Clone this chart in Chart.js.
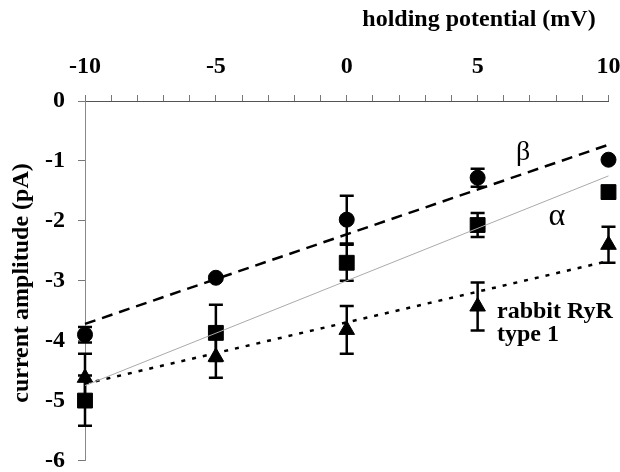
<!DOCTYPE html>
<html><head><meta charset="utf-8">
<script src="https://cdn.jsdelivr.net/npm/chart.js@4"></script>
<style>html,body{margin:0;padding:0;background:#fff}#wrap{width:620px;height:472px;position:relative}</style>
</head><body><div id="wrap"><canvas id="c"></canvas></div>
<script>
const potentials = [-10, -5, 0, 5, 10];
const betaValues = [-3.9, -2.95, -1.98, -1.28, -0.98];
const betaErrors = [0.13, 0.03, 0.4, 0.15, 0];
const alphaValues = [-5.0, -3.87, -2.7, -2.07, -1.52];
const alphaErrors = [0.42, 0.47, 0.3, 0.2, 0];
const rabbitValues = [-4.62, -4.27, -3.82, -3.43, -2.4];
const rabbitErrors = [0.4, 0.35, 0.4, 0.4, 0.3];
const trendX = [-10, 10];
const betaTrend = [-3.72, -0.73];
const alphaTrend = [-4.75, -1.25];
const rabbitTrend = [-4.72, -2.67];
const xLabeledTicks = [-10, -5, 0, 5, 10];
const xTitle = 'holding potential (mV)';
const yTitle = 'current amplitude (pA)';

const SERIF = '"Liberation Serif", "DejaVu Serif", serif';
const pts = (xs, ys) => xs.map((x, i) => ({x, y: ys[i]}));

const errorBarPlugin = {
  id: 'errorBars',
  beforeDatasetsDraw(chart) {
    const {ctx, scales: {x, y}} = chart;
    ctx.save();
    ctx.strokeStyle = '#000';
    ctx.lineWidth = 2.5;
    chart.data.datasets.forEach(ds => {
      if (!ds.errors) return;
      ds.data.forEach((p, i) => {
        const e = ds.errors[i];
        if (!e) return;
        const px = x.getPixelForValue(p.x);
        const top = y.getPixelForValue(p.y + e);
        const bot = y.getPixelForValue(p.y - e);
        ctx.beginPath();
        ctx.moveTo(px, top); ctx.lineTo(px, bot);
        ctx.moveTo(px - 7, top); ctx.lineTo(px + 7, top);
        ctx.moveTo(px - 7, bot); ctx.lineTo(px + 7, bot);
        ctx.stroke();
      });
    });
    ctx.restore();
  }
};

const textPlugin = {
  id: 'texts',
  afterDraw(chart) {
    const ctx = chart.ctx;
    ctx.save();
    ctx.fillStyle = '#000';
    ctx.textBaseline = 'middle';
    ctx.textAlign = 'center';
    ctx.font = 'bold 24px ' + SERIF;
    ctx.fillText(xTitle, 479, 20);
    ctx.save();
    ctx.translate(22, 283);
    ctx.rotate(-Math.PI / 2);
    ctx.fillText(yTitle, 0, 0);
    ctx.restore();
    ctx.font = '28px ' + SERIF;
    ctx.fillText('β', 523, 153);
    ctx.font = '32px ' + SERIF;
    ctx.fillText('α', 557, 217);
    ctx.textAlign = 'left';
    ctx.textBaseline = 'alphabetic';
    ctx.font = 'bold 24px ' + SERIF;
    ctx.fillText('rabbit RyR', 497, 318);
    ctx.fillText('type 1', 497, 341);
    ctx.restore();
  }
};

new Chart(document.getElementById('c'), {
  type: 'scatter',
  data: {
    datasets: [
      {label: 'β trend', type: 'line', data: pts(trendX, betaTrend), borderColor: '#000', borderWidth: 2.5, borderDash: [11, 7], pointRadius: 0, fill: false, clip: false},
      {label: 'α trend', type: 'line', data: pts(trendX, alphaTrend), borderColor: '#aaa', borderWidth: 1, pointRadius: 0, fill: false, clip: false},
      {label: 'rabbit trend', type: 'line', data: pts(trendX, rabbitTrend), borderColor: '#000', borderWidth: 2.5, borderDash: [4, 7], pointRadius: 0, fill: false, clip: false},
      {label: 'β', data: pts(potentials, betaValues), errors: betaErrors, pointStyle: 'circle', pointRadius: 7.5, backgroundColor: '#000', borderColor: '#000', clip: false},
      {label: 'α', data: pts(potentials, alphaValues), errors: alphaErrors, pointStyle: 'rect', pointRadius: 10.5, backgroundColor: '#000', borderColor: '#000', clip: false},
      {label: 'rabbit RyR type 1', data: pts(potentials, rabbitValues), errors: rabbitErrors, pointStyle: 'triangle', pointRadius: 9, backgroundColor: '#000', borderColor: '#000', clip: false}
    ]
  },
  options: {
    responsive: true,
    maintainAspectRatio: false,
    animation: false,
    layout: {padding: {left: 0, right: 10, top: 0, bottom: 8}},
    plugins: {legend: {display: false}, tooltip: {enabled: false}},
    scales: {
      x: {
        type: 'linear', position: 'top', min: -10, max: 10,
        afterFit(s) { s.height = 101; s.paddingLeft = 0; s.paddingRight = 0; },
        grid: {drawOnChartArea: false, tickLength: 6, color: '#777', lineWidth: 1},
        border: {display: true, color: '#555', width: 1},
        ticks: {
          stepSize: 1, autoSkip: false, maxRotation: 0, padding: 14, color: '#000',
          font: {family: SERIF, size: 24, weight: 'bold'},
          callback: v => xLabeledTicks.includes(v) ? String(v) : ''
        }
      },
      y: {
        type: 'linear', position: 'left', min: -6, max: 0,
        afterFit(s) { s.width = 85; s.paddingTop = 0; s.paddingBottom = 0; },
        grid: {drawOnChartArea: false, tickLength: 7, color: '#777', lineWidth: 1},
        border: {display: true, color: '#888', width: 1, dash: [1, 2]},
        ticks: {stepSize: 1, padding: 13, color: '#000', font: {family: SERIF, size: 24, weight: 'bold'}}
      }
    }
  },
  plugins: [errorBarPlugin, textPlugin]
});
</script>
</body></html>
